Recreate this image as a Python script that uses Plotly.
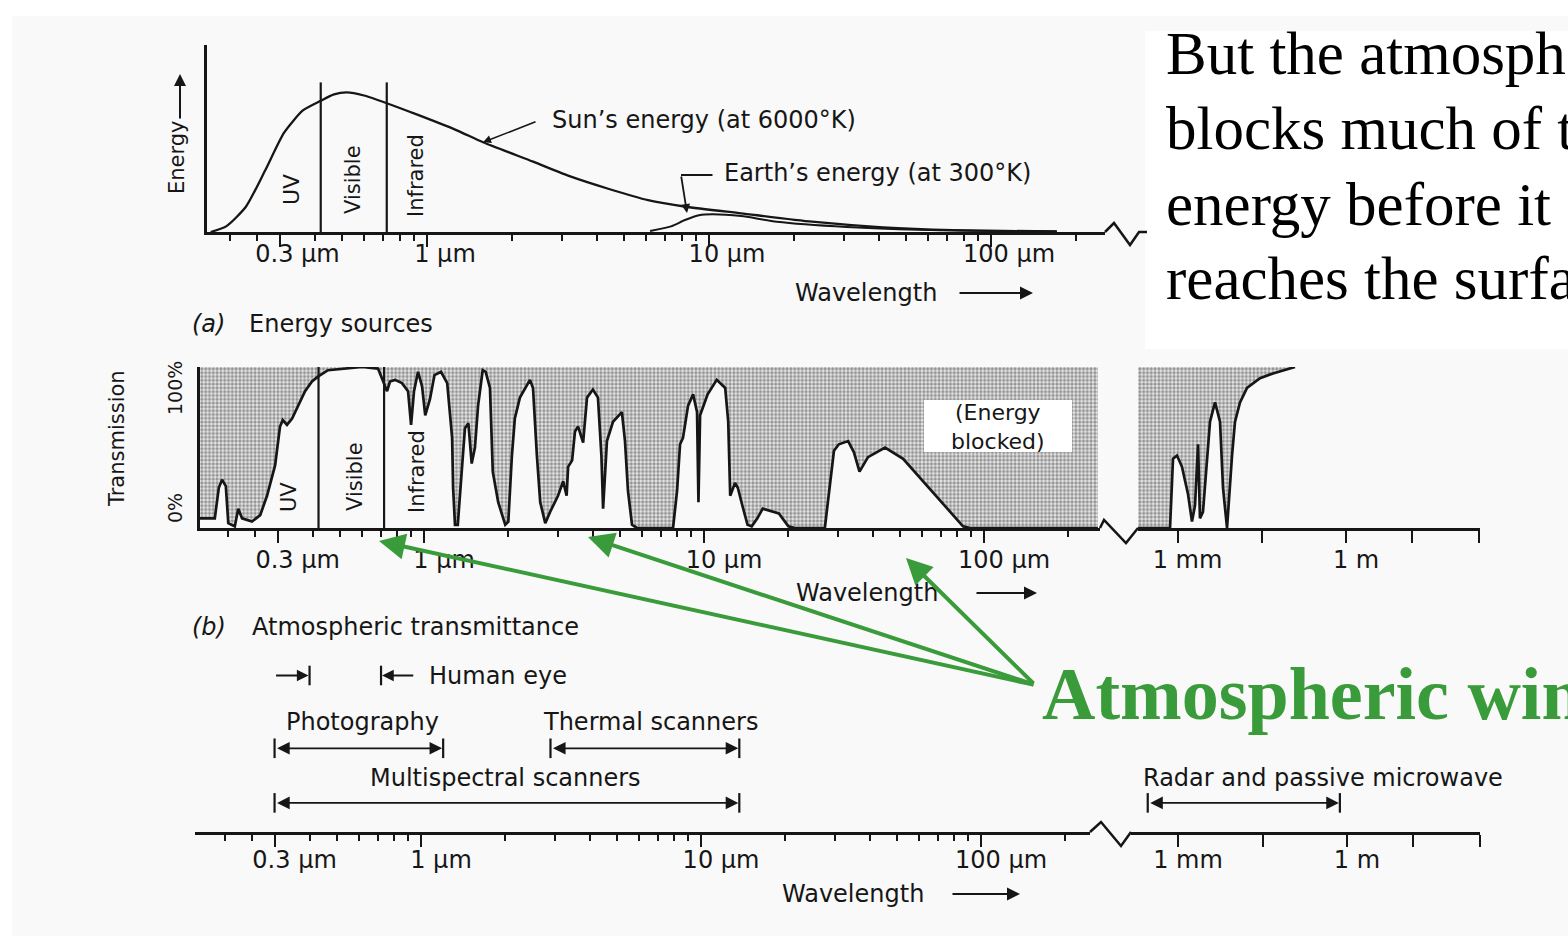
import numpy as np
import plotly.graph_objects as go

W, H = 1568, 936

# ---------------- data ----------------
# (a) Energy sources: relative spectral energy (arbitrary units) vs wavelength (µm)
sun_wavelength_um = [0.171, 0.194, 0.228, 0.267, 0.311, 0.363, 0.418, 0.468, 0.520, 0.598,
                     0.716, 0.929, 1.27, 1.58, 2.38, 3.24, 4.42, 6.08, 8.28, 13.0,
                     23.2, 41.4, 73.3, 171]
sun_energy = [0, 3, 13.5, 33, 53, 65, 70, 73.6, 74.7, 73,
              69, 62.6, 54.5, 48, 37.6, 29.6, 23, 17, 13.5, 10,
              5.5, 2.5, 1, 0.3]
earth_wavelength_um = [6.18, 7.33, 8.22, 9.22, 10.3, 13.0, 17.4, 30.8, 55.1, 171]
earth_energy = [0.5, 3, 6.4, 9, 9.5, 8.5, 5.5, 2.7, 1.2, 0.3]

region_bounds_um = [0.42, 0.72]          # UV | Visible | Infrared

# (b) Atmospheric transmittance (%) vs wavelength (µm)
trans_wavelength_um = [0.158, 0.179, 0.185, 0.190, 0.196, 0.200, 0.211, 0.217, 0.224, 0.243,
                       0.260, 0.275, 0.294, 0.306, 0.313, 0.324, 0.338, 0.355, 0.376, 0.398,
                       0.418, 0.454, 0.522, 0.601, 0.685, 0.714, 0.738, 0.756, 0.788, 0.834,
                       0.877, 0.899, 0.921, 0.952, 0.984, 1.01, 1.05, 1.09, 1.15, 1.21,
                       1.26, 1.27, 1.29, 1.32, 1.37, 1.40, 1.44, 1.46, 1.48, 1.52,
                       1.56, 1.62, 1.66, 1.72, 1.76, 1.84, 1.95, 2.00, 2.06, 2.11,
                       2.20, 2.39, 2.45, 2.53, 2.60, 2.71, 2.82, 3.01, 3.14, 3.23,
                       3.27, 3.38, 3.46, 3.55, 3.70, 3.82, 4.01, 4.18, 4.30, 4.36,
                       4.50, 4.73, 5.09, 5.22, 5.35, 5.53, 5.76, 7.75, 8.01, 8.21,
                       8.41, 8.77, 9.14, 9.44, 9.55, 9.68, 10.3, 11.1, 11.9, 12.2,
                       12.4, 12.9, 13.2, 13.7, 14.3, 14.8, 15.5, 16.2, 17.5, 18.5,
                       20.0, 21.1, 27.0, 29.1, 30.3, 32.7, 34.3, 35.9, 38.5, 44.3,
                       51.4, 61.5, 71.4, 84.1, 89.1, 255]
trans_percent = [6, 6, 25, 30, 26, 3, 1, 12, 6, 4,
                 8, 20, 39, 63, 67, 64, 68, 76, 85, 91,
                 94, 98, 99, 100, 99, 91, 85, 91, 92, 90,
                 85, 64, 85, 97, 88, 70, 80, 95, 97, 90,
                 56, 25, 2, 2, 39, 62, 65, 50, 40, 50,
                 76, 98, 97, 87, 35, 16, 2, 4, 45, 68,
                 81, 92, 87, 45, 16, 3, 10, 20, 29, 20,
                 38, 42, 60, 63, 53, 81, 86, 81, 45, 12,
                 54, 66, 72, 54, 23, 2, 0, 0, 23, 52,
                 56, 76, 83, 72, 16, 70, 83, 92, 87, 66,
                 20, 28, 25, 14, 2, 1, 6, 12, 10, 9,
                 1, 0, 0, 48, 52, 54, 47, 35, 44, 50,
                 43, 28, 15, 1, 0, 0]
trans_mw_wavelength_um = [190, 736, 832, 980, 1200, 1540, 1810, 2050, 2320, 2510,
                          2840, 3790, 4650, 5710, 6450, 7610, 9340, 10550, 12950, 17250,
                          29400, 50050, 123300]
trans_mw_percent = [0, 0, 43, 45, 38, 21, 4, 14, 52, 6,
                    10, 66, 78, 66, 25, 0, 45, 66, 78, 87,
                    93, 96, 100]
blocked_span_um = [0.158, 255]
blocked_mw_span_um = [190, 123300]

# (c) Sensor ranges (µm)
sensor_names = ["Photography", "Thermal scanners", "Multispectral scanners",
                "Radar and passive microwave"]
sensor_start_um = [0.3, 2.9, 0.3, 290]
sensor_end_um = [1.2, 13.7, 13.7, 750000]
eye_range_um = [0.4, 0.72]
eye_arrow_tail_um = [0.3, 0.95]

# tick labels
major_ticks_um = [0.3, 1, 10, 100]
major_tick_text = ["0.3 µm", "1 µm", "10 µm", "100 µm"]
minor_ticks_um = [0.2, 0.25, 0.4, 0.5, 0.6, 0.7, 0.8, 0.9, 2, 3, 4, 5, 6, 7, 8, 9,
                  20, 30, 40, 50, 60, 70, 80, 90, 200]
long_ticks_um = [1e3, 3.2e4, 1e6, 1.5e7, 2.3e8]
long_tick_text = ["1 mm", "", "1 m", "", ""]

# slide text lines
slide_lines = ["But the atmosphere", "blocks much of the", "energy before it", "reaches the surface"]
callout_text = "Atmospheric windows"

# ---------------- styling / layout helpers ----------------
FONT = "DejaVu Sans"
INK = "#161616"
GREEN = "#3a9b3a"
TXT = 24


def px(x):
    return x / W


def py(y):
    return 1 - y / H


fig = go.Figure()

# ---- panel (a)
fig.add_trace(go.Scatter(x=sun_wavelength_um, y=sun_energy, xaxis="x", yaxis="y", mode="lines",
                         line=dict(color=INK, width=2.3, shape="spline", smoothing=0.6),
                         hoverinfo="skip"))
fig.add_trace(go.Scatter(x=earth_wavelength_um, y=earth_energy, xaxis="x", yaxis="y", mode="lines",
                         line=dict(color=INK, width=2.0, shape="spline", smoothing=0.6),
                         hoverinfo="skip"))
for b in region_bounds_um:
    fig.add_trace(go.Scatter(x=[b, b], y=[0, 80], xaxis="x", yaxis="y", mode="lines",
                             line=dict(color=INK, width=2.2), hoverinfo="skip"))

# ---- panel (b)
PATTERN = dict(shape=".", fgcolor="#3e3e3e", bgcolor="#e9e9e9", size=3.8, solidity=0.55)
fig.add_trace(go.Scatter(x=trans_wavelength_um, y=trans_percent, xaxis="x2", yaxis="y2",
                         mode="lines", line=dict(color=INK, width=2.7), hoverinfo="skip"))
fig.add_trace(go.Scatter(x=blocked_span_um, y=[100, 100], xaxis="x2", yaxis="y2", mode="lines",
                         line=dict(width=0), fill="tonexty", fillpattern=PATTERN,
                         hoverinfo="skip"))
fig.add_trace(go.Scatter(x=trans_mw_wavelength_um, y=trans_mw_percent, xaxis="x4", yaxis="y2",
                         mode="lines", line=dict(color=INK, width=2.7), hoverinfo="skip"))
fig.add_trace(go.Scatter(x=blocked_mw_span_um, y=[100, 100], xaxis="x4", yaxis="y2", mode="lines",
                         line=dict(width=0), fill="tonexty", fillpattern=PATTERN,
                         hoverinfo="skip"))
for b in region_bounds_um:
    fig.add_trace(go.Scatter(x=[b, b], y=[0, 100], xaxis="x2", yaxis="y2", mode="lines",
                             line=dict(color=INK, width=2.2), hoverinfo="skip"))

# ---- panel (c): sensor ranges
sensor_axis = ["x3", "x3", "x3", "x5"]
sensor_level = [46, 46, 16, 16]
eye_level = 86
CAP = dict(symbol="line-ns-open", size=14, color=INK, line=dict(color=INK, width=2.2))
for s0, s1, ax_, lv in zip(sensor_start_um, sensor_end_um, sensor_axis, sensor_level):
    fig.add_trace(go.Scatter(x=[s0, s1], y=[lv, lv], xaxis=ax_, yaxis="y3", mode="markers",
                             marker=CAP, hoverinfo="skip"))
fig.add_trace(go.Scatter(x=eye_range_um, y=[eye_level, eye_level], xaxis="x3", yaxis="y3",
                         mode="markers", marker=CAP, hoverinfo="skip"))


def xaxis_cfg(dom, rng, anchor, tickvals, ticktext, minor_vals, shift, standoff):
    d = dict(type="log", domain=[px(dom[0]), px(dom[1])], range=rng, anchor=anchor,
             showline=True, linecolor=INK, linewidth=2.5, showgrid=False, zeroline=False,
             ticks="outside", ticklen=12, tickwidth=2, tickcolor=INK,
             tickmode="array", tickvals=tickvals, ticktext=ticktext,
             tickfont=dict(family=FONT, size=TXT, color=INK),
             ticklabelshift=shift, ticklabelstandoff=standoff, fixedrange=True)
    if minor_vals:
        d["minor"] = dict(tickmode="array", tickvals=minor_vals, ticks="outside", ticklen=6,
                          tickwidth=1.8, tickcolor=INK, showgrid=False)
    return d


def yaxis_cfg(dom, anchor, show):
    return dict(domain=[py(dom[0]), py(dom[1])], range=[0, 100], anchor=anchor,
                showline=show, linecolor=INK, linewidth=2.5, ticks="", showticklabels=False,
                showgrid=False, zeroline=False, fixedrange=True)


def text(x, y, s, size=TXT, angle=0, xanchor="center", family=FONT, color=INK):
    return dict(x=px(x), y=py(y), xref="paper", yref="paper", text=s, showarrow=False,
                font=dict(family=family, size=size, color=color), textangle=angle,
                xanchor=xanchor, yanchor="middle")


def arrow(x0, y0, x1, y1, color=INK, width=2.0, head=2, size=1.0):
    return dict(x=px(x1), y=py(y1), xref="paper", yref="paper", ax=x0 - x1, ay=y0 - y1,
                text="", showarrow=True, arrowhead=head, arrowwidth=width, arrowsize=size,
                arrowcolor=color, standoff=0)


annotations = [
    # panel (a)
    text(177, 157, "Energy", 21, -90),
    arrow(180, 120, 180, 74, width=2, size=1.2),
    text(292, 190, "UV", 22, -90),
    text(353, 180, "Visible", 21, -90),
    text(416, 176, "Infrared", 21, -90),
    text(550, 120, "Sun’s energy (at 6000°K)", xanchor="left"),
    dict(x=np.log10(1.58), y=48, xref="x", yref="y", ax=54, ay=-21, text="", showarrow=True,
         arrowhead=2, arrowwidth=1.6, arrowsize=1.0, arrowcolor=INK, standoff=0),
    text(722, 173, "Earth’s energy (at 300°K)", xanchor="left"),
    arrow(714, 175, 681, 175, head=0, width=1.8),
    arrow(681, 175, 687, 213, width=1.8, size=1.0),
    text(866, 293, "Wavelength"),
    arrow(958, 293, 1033, 293, width=2, size=1.3),
    text(190, 324, "<i>(a)</i>", xanchor="left"),
    text(247, 324, "Energy sources", xanchor="left"),
    # panel (b)
    text(117, 439, "Transmission", 21, -90),
    text(175, 388, "100%", 19, -90),
    text(175, 508, "0%", 19, -90),
    text(289, 497, "UV", 21, -90),
    text(355, 477, "Visible", 21, -90),
    text(417, 472, "Infrared", 21, -90),
    text(998, 427, "(Energy<br>blocked)", 22),
    text(867, 593, "Wavelength"),
    arrow(975, 593, 1037, 593, width=2, size=1.3),
    text(190, 627, "<i>(b)</i>", xanchor="left"),
    text(250, 627, "Atmospheric transmittance", xanchor="left"),
    # panel (c)
    text(427, 676, "Human eye", xanchor="left"),
    text(853, 894, "Wavelength"),
    arrow(951, 894, 1020, 894, width=2, size=1.3),
]

label_pos = [(362, 722), (650, 722), (505, 778), (1323, 778)]
for name, (lx, ly) in zip(sensor_names, label_pos):
    annotations.append(text(lx, ly, name))

# sensor range arrows (double headed) drawn on the wavelength axes
for s0, s1, ax_, lv in zip(sensor_start_um, sensor_end_um, sensor_axis, sensor_level):
    annotations.append(dict(x=np.log10(s1), y=lv, ax=np.log10(s0), ay=lv, xref=ax_, yref="y3",
                            axref=ax_, ayref="y3", text="", showarrow=True,
                            arrowside="end+start", arrowhead=2, startarrowhead=2,
                            arrowsize=1.4, startarrowsize=1.4, arrowwidth=1.8,
                            arrowcolor=INK, standoff=1, startstandoff=1))
# human eye markers
for head, tail in zip(eye_range_um, eye_arrow_tail_um):
    annotations.append(dict(x=np.log10(head), y=eye_level, ax=np.log10(tail), ay=eye_level,
                            xref="x3", yref="y3", axref="x3", ayref="y3", text="",
                            showarrow=True, arrowhead=2, arrowsize=1.3, arrowwidth=1.8,
                            arrowcolor=INK, standoff=1))

# slide text (one annotation per line, as on the slide) + green call-out
for line, top in zip(slide_lines, [18, 93, 169, 243]):
    annotations.append(dict(x=px(1164), y=py(top), xref="paper", yref="paper", xanchor="left",
                            yanchor="top", align="left", showarrow=False, text=line,
                            font=dict(family="Liberation Serif", size=61, color="black")))
for hx, hy in [(379, 541), (588, 537), (906, 558)]:
    annotations.append(arrow(1035, 685, hx, hy, color=GREEN, width=4, size=1.3))
annotations.append(dict(x=px(1040), y=py(694), xref="paper", yref="paper", xanchor="left",
                        yanchor="middle", showarrow=False, text=f"<b>{callout_text}</b>",
                        font=dict(family="Liberation Serif", size=74, color=GREEN)))


def path(points):
    return "M " + " L ".join(f"{px(x):.5f},{py(y):.5f}" for x, y in points)


shapes = [
    dict(type="rect", xref="paper", yref="paper", x0=px(12), x1=1, y0=0, y1=py(16),
         fillcolor="#f9f9f9", line=dict(width=0), layer="below"),
    dict(type="rect", xref="paper", yref="paper", x0=px(1145), x1=1, y0=py(349), y1=py(31),
         fillcolor="white", line=dict(width=0), layer="below"),
    dict(type="rect", xref="paper", yref="paper", x0=px(924), x1=px(1072), y0=py(452), y1=py(400),
         fillcolor="white", line=dict(width=0), layer="above"),
]
for pts in ([(1105, 232), (1114, 223), (1130, 245), (1139, 232), (1147, 232)],
            [(1100, 528), (1104, 520), (1126, 543), (1138, 528)],
            [(1090, 832), (1101, 822), (1121, 846), (1131, 832)]):
    shapes.append(dict(type="path", xref="paper", yref="paper", path=path(pts),
                       line=dict(color=INK, width=2.5), layer="above"))

fig.update_layout(
    width=W, height=H, autosize=False, margin=dict(l=0, r=0, t=0, b=0, pad=0),
    paper_bgcolor="white", plot_bgcolor="rgba(0,0,0,0)", showlegend=False, hovermode=False,
    xaxis=xaxis_cfg((207, 1105), [-0.780, 2.404], "y", major_ticks_um, major_tick_text,
                    minor_ticks_um, 18, -14),
    yaxis=yaxis_cfg((232, 45), "x", True),
    xaxis2=xaxis_cfg((200, 1100), [-0.800, 2.414], "y2", major_ticks_um, major_tick_text,
                     minor_ticks_um, 20, -4),
    yaxis2=yaxis_cfg((528, 367), "x2", True),
    xaxis3=xaxis_cfg((195, 1090), [-0.807, 2.389], "y3", major_ticks_um, major_tick_text,
                     minor_ticks_um, 20, -8),
    yaxis3=yaxis_cfg((832, 650), "x3", False),
    xaxis4=xaxis_cfg((1138, 1480), [2.297, 8.383], "y2", long_ticks_um, long_tick_text,
                     None, 10, -4),
    xaxis5=xaxis_cfg((1131, 1480), [2.165, 8.364], "y3", long_ticks_um, long_tick_text,
                     None, 10, -8),
    annotations=annotations,
    shapes=shapes,
)

fig.write_html("out.html", config={"displayModeBar": False})
